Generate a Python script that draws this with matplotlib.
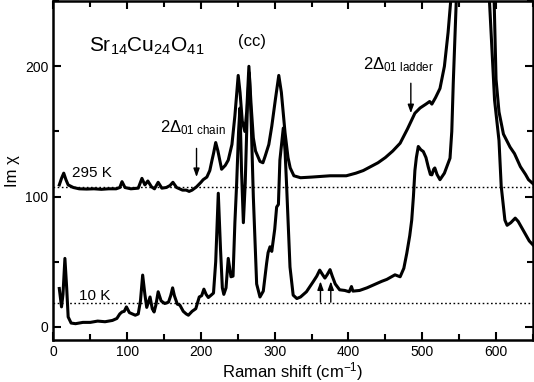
import matplotlib
matplotlib.use("Agg")
import matplotlib.pyplot as plt
from matplotlib.ticker import MultipleLocator

plt.rcParams["font.family"] = ["Liberation Sans", "DejaVu Sans"]
plt.rcParams["mathtext.fontset"] = "custom"
plt.rcParams["mathtext.rm"] = "Liberation Sans"
plt.rcParams["mathtext.it"] = "Liberation Sans:italic"

# 295 K spectrum (upper curve)
shift_295 = [8, 11, 14, 17, 20, 27, 35, 45, 55, 65, 75, 85, 90, 93, 97, 105, 115,
             120, 124, 128, 133, 137, 142, 147, 153, 158, 162, 167, 175, 180, 184,
             188, 194, 200, 203, 208, 212, 215, 217, 220, 223, 228, 233, 237, 242,
             246, 250.5, 253, 256, 259.5, 262, 265, 268, 271, 274, 280, 284, 287,
             292, 296, 301, 305.5, 309, 314, 318, 321, 326, 335, 350, 375, 397,
             410, 420, 430, 440, 450, 460, 470, 480, 485, 490, 497, 505, 510, 513,
             518, 524, 530, 535, 540, 560, 580, 597, 600, 604, 610, 619, 625, 633,
             640, 644, 650]
chi_295 = [109, 114, 118, 113, 109, 107, 106, 105.8, 106, 105.6, 106, 106, 107,
           111.5, 107, 106, 106.5, 114, 109, 112, 107.5, 106, 111, 106.5, 107,
           108.5, 111, 107, 105, 105, 104, 105, 107.5, 111, 113, 115, 120, 128,
           133, 141.5, 135, 121, 124, 128, 140, 162, 193, 180, 158, 150, 165, 200,
           170, 145, 135, 127, 126, 131, 140, 154, 175, 193, 180, 149, 130, 122,
           116, 114.5, 115, 116, 116, 118, 120, 123, 126, 130, 135, 141, 152,
           158, 164, 168, 171, 173, 171, 176, 183, 200, 226, 260, 420, 420, 260,
           190, 165, 148, 138, 133, 123, 117, 113, 110]

# 10 K spectrum (lower curve)
shift_10 = [8, 11, 13, 15.6, 18, 20, 24, 30, 40, 50, 60, 70, 80, 86, 90, 93, 96,
            99, 103, 107, 111, 115, 118, 121, 124, 126.5, 131, 134, 136.5, 139,
            142, 146, 151, 156, 159, 161.6, 164, 168, 171.5, 176, 180, 183, 188,
            193, 197.7, 201, 204, 207, 210, 213, 217, 220, 223.5, 226.5, 229, 231,
            234, 237, 240.7, 243.5, 246, 248.4, 251, 252.9, 255, 257.5, 260, 263,
            265.5, 268, 271, 275.5, 280, 284.5, 289, 291, 293.6, 296, 300, 302.6,
            305, 307, 311.6, 314, 316, 318.5, 320.7, 325, 330, 335, 343, 352, 357,
            361, 365, 368, 371, 375, 378, 382, 388, 395, 401, 404, 406, 415, 425,
            433, 445, 452, 463, 470, 475, 479, 483, 485.7, 488, 490, 492, 494.6,
            498, 501.4, 505, 508, 511, 513, 515.5, 517, 520, 524, 530, 537.6, 540,
            542, 546.7, 555, 575, 588, 591, 598, 604, 607, 612, 615, 620, 626, 630,
            635, 640, 645, 650]
chi_10 = [29.5, 15.4, 25, 52.6, 30, 7.7, 3, 2.5, 3.5, 3.5, 4.5, 4, 5, 6.5, 10,
          11.5, 12, 15.4, 11, 10, 9, 10, 20, 39.8, 25, 15, 23, 14, 11.5, 17, 27,
          20, 18, 19, 24, 30, 24, 17.5, 16.7, 12, 10, 9, 12, 14, 23, 24, 29, 25,
          22.6, 24, 26, 50, 102.6, 60, 30, 25, 30, 52.6, 38.5, 39, 80, 110, 150,
          168, 120, 80, 110, 170, 195, 160, 100, 33, 23, 27.5, 48.8, 57, 61.5, 58,
          75, 92, 94, 128, 152.6, 135, 110, 75, 46, 24.4, 21.8, 23, 27, 34.6, 39,
          43.6, 40, 37.5, 40, 44, 39, 33, 28.5, 28, 27, 31, 27.5, 28, 30, 32, 35,
          36.5, 40, 38.5, 45, 56.5, 70, 82, 100, 120, 130, 138.5, 136, 134.6, 130,
          123, 117, 116.7, 121, 122, 117, 113, 118, 129.5, 150, 187, 260, 330,
          450, 300, 251, 174, 143, 108, 82, 78, 80, 83.5, 81, 76, 71, 66, 63]

baselines = [107.5, 18.5]

fig = plt.figure(figsize=(5.34, 3.82), dpi=100)
ax = fig.add_axes([0.100, 0.110, 0.898, 0.887])

ax.plot(shift_295, chi_295, color="black", lw=2.2)
ax.plot(shift_10, chi_10, color="black", lw=2.2)
for b in baselines:
    ax.axhline(b, color="black", lw=1, ls=(0, (1.2, 1.8)))

ax.set_xlim(0, 650)
ax.set_ylim(-10, 250)
ax.xaxis.set_major_locator(MultipleLocator(100))
ax.xaxis.set_minor_locator(MultipleLocator(50))
ax.yaxis.set_major_locator(MultipleLocator(100))
ax.yaxis.set_minor_locator(MultipleLocator(50))
ax.tick_params(which="both", direction="in", top=True, right=True, width=1.5,
               labelsize=10)
ax.tick_params(which="major", length=6)
ax.tick_params(which="minor", length=4)
for s in ax.spines.values():
    s.set_linewidth(1.8)

ax.set_xlabel("Raman shift (cm$^{-1}$)", fontsize=12, labelpad=1)
ax.set_ylabel("Im χ", fontsize=12, labelpad=4)

ax.text(25, 118, "295 K", fontsize=11, va="center")
ax.text(35, 24, "10 K", fontsize=11, va="center")
ax.text(48, 215, "Sr$_{14}$Cu$_{24}$O$_{41}$", fontsize=15, va="center")
ax.text(250, 219, "(cc)", fontsize=12, va="center")
ax.text(145, 153, "2Δ$_{\\mathrm{01\\ chain}}$", fontsize=12, va="center")
ax.text(420, 201, "2Δ$_{\\mathrm{01\\ ladder}}$", fontsize=12, va="center")

arrow = dict(arrowstyle="-|>,head_length=0.5,head_width=0.18", color="black",
             lw=1, shrinkA=0, shrinkB=0)
ax.annotate("", xy=(194, 115), xytext=(194, 137), arrowprops=arrow)
ax.annotate("", xy=(484.5, 164), xytext=(484.5, 187), arrowprops=arrow)
ax.annotate("", xy=(362, 35), xytext=(362, 19), arrowprops=arrow)
ax.annotate("", xy=(376, 35), xytext=(376, 19), arrowprops=arrow)

fig.savefig("out.png", dpi=100)
